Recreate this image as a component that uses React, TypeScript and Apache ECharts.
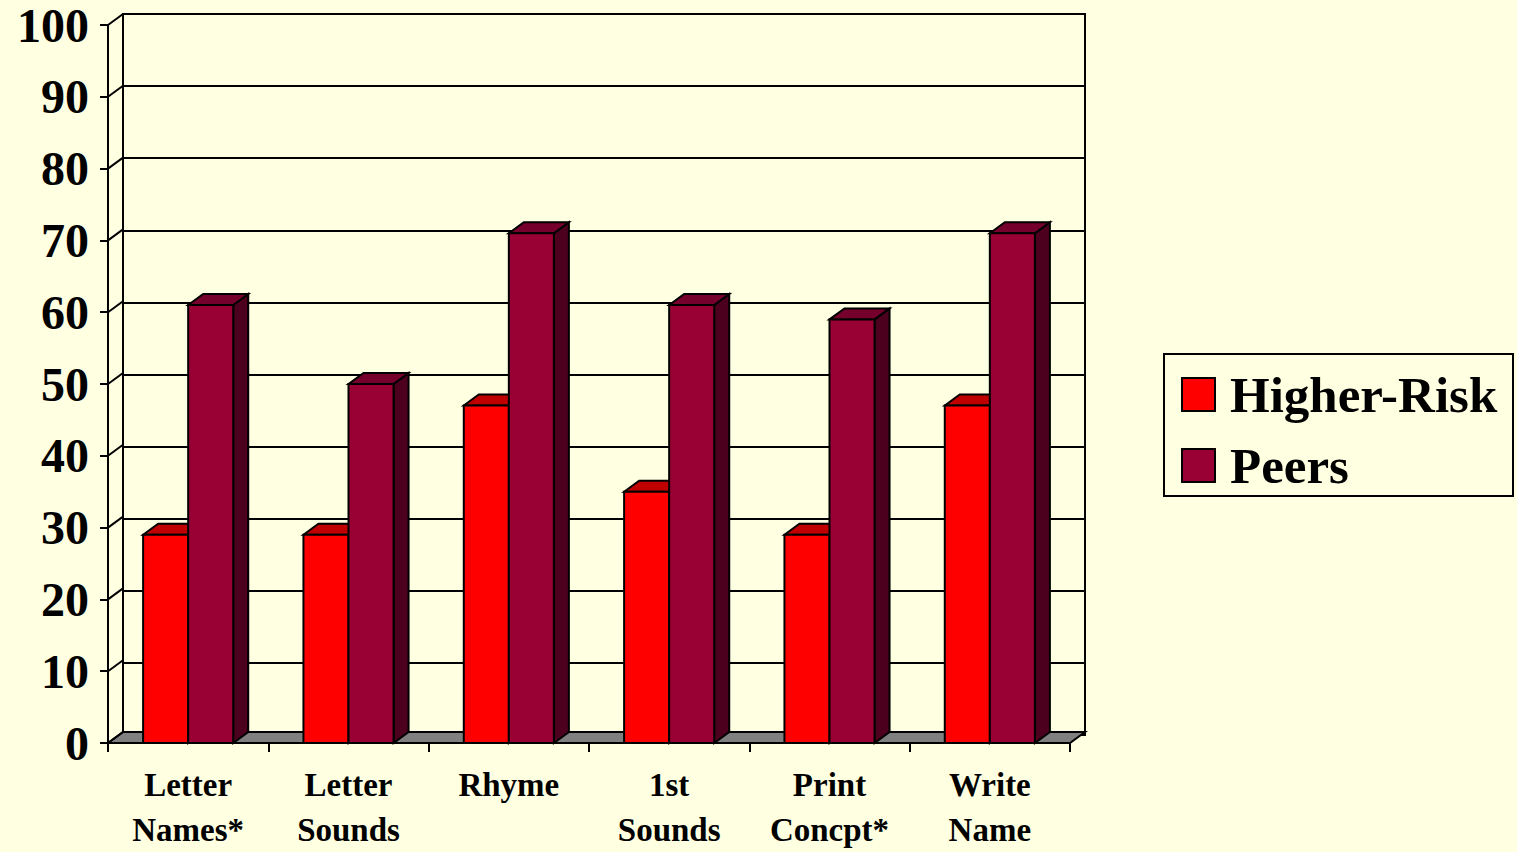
import React, { useEffect, useRef } from "react";
import * as echarts from "echarts";

const CATEGORIES = ["Letter\nNames*", "Letter\nSounds", "Rhyme", "1st\nSounds", "Print\nConcpt*", "Write\nName"];
const HIGHER_RISK = [29, 29, 47, 35, 29, 47];
const PEERS = [61, 50, 71, 61, 59, 71];
const Y_TICKS = [0, 10, 20, 30, 40, 50, 60, 70, 80, 90, 100];
const SERIES_NAMES = ["Higher-Risk", "Peers"];

const DX = 15;
const DY = -11;
const BAR_FRAC = 0.281;
const FONT = "'Liberation Serif', 'Times New Roman', serif";
const BG = "#FFFFE1";

const RED = { front: "#FF0000", top: "#C00000", side: "#A00000" };
const WINE = { front: "#990033", top: "#75002B", side: "#4C001E" };

function barRenderer(side: number, colors: { front: string; top: string; side: string }) {
  return (params: any, api: any) => {
    const i = api.value(0);
    const v = api.value(1);
    const top = api.coord([i, v]);
    const base = api.coord([i, 0]);
    const band = api.size([1, 0])[0];
    const bw = band * BAR_FRAC;
    const x0 = side < 0 ? top[0] - bw : top[0];
    const x1 = x0 + bw;
    const yT = top[1];
    const yB = base[1];
    const st = { stroke: "#000", lineWidth: 2, lineJoin: "miter" };
    return {
      type: "group",
      children: [
        {
          type: "polygon",
          shape: { points: [[x1, yT], [x1 + DX, yT + DY], [x1 + DX, yB + DY], [x1, yB]] },
          style: { fill: colors.side, ...st },
        },
        {
          type: "polygon",
          shape: { points: [[x0, yT], [x0 + DX, yT + DY], [x1 + DX, yT + DY], [x1, yT]] },
          style: { fill: colors.top, ...st },
        },
        {
          type: "rect",
          shape: { x: x0, y: yT, width: bw, height: yB - yT },
          style: { fill: colors.front, ...st },
        },
      ],
    };
  };
}

export default function App() {
  const ref = useRef<HTMLDivElement>(null);
  useEffect(() => {
    if (!ref.current) return;
    const chart = echarts.init(ref.current, null, { renderer: "svg" });
    const gridFront = { left: 108, right: 447, top: 25, bottom: 106 };
    const gridBack = {
      left: 108 + DX,
      right: 447 - DX,
      top: 25 + DY,
      bottom: 106 - DY,
      show: true,
      borderColor: "#000",
      borderWidth: 2,
      backgroundColor: "transparent",
    };
    const option: any = {
      animation: false,
      backgroundColor: BG,
      grid: [gridFront, gridBack],
      xAxis: [
        {
          type: "category",
          gridIndex: 0,
          data: CATEGORIES,
          boundaryGap: true,
          axisLine: { show: true, lineStyle: { color: "#000", width: 2 } },
          axisTick: { show: true, length: 9, lineStyle: { color: "#000", width: 2 } },
          axisLabel: {
            margin: 19,
            color: "#000",
            fontFamily: FONT,
            fontWeight: "bold",
            fontSize: 33,
            lineHeight: 45,
            interval: 0,
          },
          splitLine: { show: false },
        },
        {
          type: "category",
          gridIndex: 1,
          data: CATEGORIES,
          show: false,
        },
      ],
      yAxis: [
        {
          type: "value",
          gridIndex: 0,
          min: 0,
          max: 100,
          interval: 10,
          axisLine: { show: true, lineStyle: { color: "#000", width: 2 } },
          axisTick: { show: true, length: 8, lineStyle: { color: "#000", width: 2 } },
          axisLabel: {
            margin: 19,
            color: "#000",
            fontFamily: FONT,
            fontWeight: "bold",
            fontSize: 48,
          },
          splitLine: { show: false },
        },
        {
          type: "value",
          gridIndex: 1,
          min: 0,
          max: 100,
          interval: 10,
          axisLine: { show: false },
          axisTick: { show: false },
          axisLabel: { show: false },
          splitLine: { show: true, lineStyle: { color: "#000", width: 2 } },
        },
      ],
      series: [
        {
          type: "custom",
          name: "floor",
          xAxisIndex: 0,
          yAxisIndex: 0,
          z: 2,
          clip: false,
          silent: true,
          data: [[0, 0]],
          renderItem: (params: any, api: any) => {
            const cs = params.coordSys;
            const y0 = api.coord([0, 0])[1];
            return {
              type: "polygon",
              shape: {
                points: [
                  [cs.x, y0],
                  [cs.x + cs.width, y0],
                  [cs.x + cs.width + DX, y0 + DY],
                  [cs.x + DX, y0 + DY],
                ],
              },
              style: { fill: "#808080", stroke: "#000", lineWidth: 2 },
            };
          },
        },
        {
          type: "custom",
          name: "wall",
          xAxisIndex: 0,
          yAxisIndex: 0,
          z: 2,
          clip: false,
          silent: true,
          data: Y_TICKS.map((v) => [0, v]),
          renderItem: (params: any, api: any) => {
            const cs = params.coordSys;
            const y = api.coord([0, api.value(1)])[1];
            return {
              type: "line",
              shape: { x1: cs.x, y1: y, x2: cs.x + DX, y2: y + DY },
              style: { stroke: "#000", lineWidth: 2 },
            };
          },
        },
        {
          type: "custom",
          name: SERIES_NAMES[0],
          xAxisIndex: 0,
          yAxisIndex: 0,
          z: 3,
          clip: false,
          data: HIGHER_RISK.map((v, i) => [i, v]),
          encode: { x: 0, y: 1 },
          itemStyle: { color: RED.front },
          renderItem: barRenderer(-1, RED),
        },
        {
          type: "custom",
          name: SERIES_NAMES[1],
          xAxisIndex: 0,
          yAxisIndex: 0,
          z: 4,
          clip: false,
          data: PEERS.map((v, i) => [i, v]),
          encode: { x: 0, y: 1 },
          itemStyle: { color: WINE.front },
          renderItem: barRenderer(1, WINE),
        },
      ],
      graphic: [
        {
          type: "group",
          left: 1163,
          top: 353,
          children: [
            {
              type: "rect",
              shape: { x: 0, y: 0, width: 349, height: 142 },
              style: { fill: "transparent", stroke: "#000", lineWidth: 2 },
            },
            {
              type: "rect",
              shape: { x: 18, y: 24, width: 33, height: 33 },
              style: { fill: RED.front, stroke: "#000", lineWidth: 2 },
            },
            {
              type: "text",
              x: 66,
              y: 41,
              style: {
                text: SERIES_NAMES[0],
                fill: "#000",
                font: `bold 51px ${FONT}`,
                verticalAlign: "middle",
                align: "left",
              },
            },
            {
              type: "rect",
              shape: { x: 18, y: 95, width: 33, height: 33 },
              style: { fill: WINE.front, stroke: "#000", lineWidth: 2 },
            },
            {
              type: "text",
              x: 66,
              y: 112,
              style: {
                text: SERIES_NAMES[1],
                fill: "#000",
                font: `bold 51px ${FONT}`,
                verticalAlign: "middle",
                align: "left",
              },
            },
          ],
        },
      ],
    };
    chart.setOption(option);
    return () => chart.dispose();
  }, []);
  return (
    <div
      ref={ref}
      style={{ position: "fixed", left: 0, top: 0, width: 1517, height: 852 }}
    />
  );
}
